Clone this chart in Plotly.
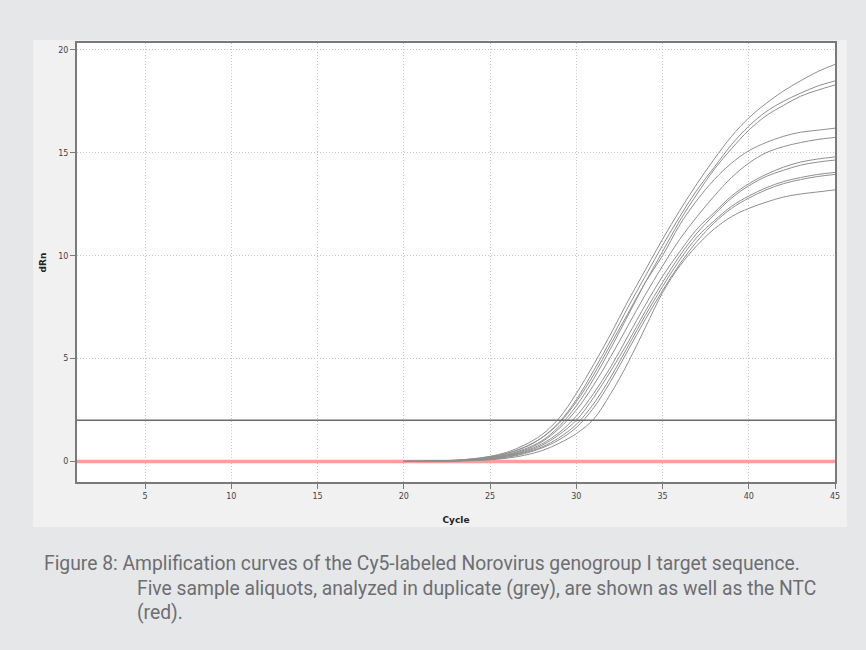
import plotly.graph_objects as go

# ---------------- data ----------------
cycles = list(range(20, 46))

sample_1a = [0.0, 0.01, 0.03, 0.06, 0.13, 0.25, 0.45, 0.8, 1.3, 2.1, 3.3, 4.7, 6.2, 7.8, 9.3, 10.8, 12.2, 13.5, 14.7, 15.8, 16.7, 17.4, 18.0, 18.5, 18.95, 19.3]
sample_1b = [0.0, 0.01, 0.02, 0.05, 0.11, 0.21, 0.38, 0.68, 1.15, 1.9, 3.0, 4.4, 5.9, 7.5, 9.0, 10.5, 11.9, 13.2, 14.3, 15.4, 16.3, 17.0, 17.5, 17.9, 18.25, 18.5]
sample_2a = [0.0, 0.01, 0.02, 0.04, 0.09, 0.18, 0.33, 0.6, 1.0, 1.7, 2.7, 4.0, 5.5, 7.1, 8.7, 10.2, 11.7, 13.0, 14.2, 15.2, 16.1, 16.8, 17.3, 17.75, 18.05, 18.3]
sample_2b = [0.0, 0.01, 0.03, 0.06, 0.12, 0.22, 0.4, 0.7, 1.15, 1.85, 2.9, 4.2, 5.7, 7.2, 8.7, 10.0, 11.5, 12.7, 13.7, 14.5, 15.1, 15.5, 15.8, 16.0, 16.1, 16.2]
sample_3a = [0.0, 0.01, 0.02, 0.04, 0.09, 0.17, 0.31, 0.55, 0.95, 1.6, 2.5, 3.7, 5.1, 6.6, 8.1, 9.5, 10.8, 11.9, 12.9, 13.8, 14.5, 15.0, 15.3, 15.5, 15.65, 15.75]
sample_3b = [0.0, 0.0, 0.02, 0.04, 0.08, 0.15, 0.28, 0.5, 0.85, 1.4, 2.2, 3.3, 4.6, 6.1, 7.6, 9.0, 10.2, 11.3, 12.1, 12.9, 13.5, 13.95, 14.3, 14.55, 14.7, 14.8]
sample_4a = [0.0, 0.0, 0.01, 0.03, 0.07, 0.14, 0.26, 0.46, 0.78, 1.3, 2.0, 3.1, 4.4, 5.8, 7.3, 8.7, 10.0, 11.1, 12.0, 12.8, 13.4, 13.85, 14.15, 14.4, 14.55, 14.65]
sample_4b = [0.0, 0.0, 0.01, 0.03, 0.06, 0.12, 0.23, 0.42, 0.7, 1.15, 1.8, 2.8, 4.1, 5.6, 7.1, 8.5, 9.8, 10.9, 11.7, 12.4, 12.9, 13.3, 13.6, 13.8, 13.95, 14.05]
sample_5a = [0.0, 0.0, 0.01, 0.02, 0.05, 0.1, 0.2, 0.38, 0.65, 1.05, 1.65, 2.6, 3.9, 5.4, 6.9, 8.3, 9.6, 10.7, 11.6, 12.3, 12.8, 13.2, 13.5, 13.7, 13.85, 13.95]
sample_5b = [0.0, 0.0, 0.01, 0.02, 0.04, 0.08, 0.16, 0.3, 0.52, 0.88, 1.35, 2.05, 3.3, 4.8, 6.5, 8.2, 9.5, 10.5, 11.3, 11.9, 12.3, 12.6, 12.85, 13.0, 13.1, 13.2]

samples = {
    "Sample 1 (a)": sample_1a, "Sample 1 (b)": sample_1b,
    "Sample 2 (a)": sample_2a, "Sample 2 (b)": sample_2b,
    "Sample 3 (a)": sample_3a, "Sample 3 (b)": sample_3b,
    "Sample 4 (a)": sample_4a, "Sample 4 (b)": sample_4b,
    "Sample 5 (a)": sample_5a, "Sample 5 (b)": sample_5b,
}

ntc_cycles = list(range(1, 46))
ntc_values = [0.0] * len(ntc_cycles)

threshold = 2.0

x_ticks = [5, 10, 15, 20, 25, 30, 35, 40, 45]
y_ticks = [0, 5, 10, 15, 20]

caption_lines = [
    "Figure 8: Amplification curves of the Cy5-labeled Norovirus genogroup I target sequence.",
    "Five sample aliquots, analyzed in duplicate (grey), are shown as well as the NTC",
    "(red).",
]

# ---------------- figure ----------------
fig = go.Figure()

fig.add_trace(go.Scatter(x=ntc_cycles, y=ntc_values, mode="lines",
                         line=dict(color="#ff9c9c", width=3.5), name="NTC",
                         showlegend=False, hoverinfo="skip"))

for name, vals in samples.items():
    fig.add_trace(go.Scatter(x=cycles, y=vals, mode="lines", name=name,
                             line=dict(color="#8f8f8f", width=1, shape="spline"),
                             showlegend=False))

fig.add_hline(y=threshold, line=dict(color="#6a6a6a", width=1.6))

L, R, T, B = 77, 31, 43, 168
W, H = 866, 650
pw, ph = W - L - R, H - T - B

def px_x(p):
    return (p - L) / pw

def px_y(p):
    return (H - B - p) / ph

# lighter panel behind the chart, then white plotting area
fig.add_shape(type="rect", xref="paper", yref="paper",
              x0=px_x(33), x1=px_x(847), y0=px_y(527), y1=px_y(40),
              fillcolor="#f1f1f1", line=dict(width=0), layer="below")
fig.add_shape(type="rect", xref="paper", yref="paper",
              x0=0, x1=1, y0=0, y1=1,
              fillcolor="#ffffff", line=dict(width=0), layer="below")

axis_common = dict(
    showline=True, linecolor="#7a7a7a", linewidth=2, mirror=True,
    ticks="outside", ticklen=5, tickcolor="#7a7a7a", tickwidth=1,
    showgrid=True, gridcolor="#c4c4c4", griddash="1px,2px", gridwidth=1,
    zeroline=False, tickfont=dict(family="DejaVu Sans", size=8, color="#444444"),
)

fig.update_xaxes(range=[1.05, 45], tickvals=x_ticks, **axis_common,
                 title=dict(text="<b>Cycle</b>", font=dict(family="DejaVu Sans", size=9, color="#222222"), standoff=17))
fig.update_yaxes(range=[-1.0, 20.34], tickvals=y_ticks, **axis_common,
                 title=dict(text="<b>dRn</b>", font=dict(family="DejaVu Sans", size=9, color="#222222"), standoff=10))

cap_font = dict(family="Roboto, sans-serif", size=19.3, color="#6d6e71")
fig.add_annotation(x=px_x(42), y=px_y(563), xref="paper", yref="paper", xanchor="left", yanchor="middle",
                   text=caption_lines[0], showarrow=False, font=cap_font)
fig.add_annotation(x=px_x(135), y=px_y(588), xref="paper", yref="paper", xanchor="left", yanchor="middle",
                   text=caption_lines[1], showarrow=False, font=cap_font)
fig.add_annotation(x=px_x(135), y=px_y(612), xref="paper", yref="paper", xanchor="left", yanchor="middle",
                   text=caption_lines[2], showarrow=False, font=cap_font)

fig.update_layout(
    width=W, height=H,
    margin=dict(l=L, r=R, t=T, b=B),
    paper_bgcolor="#e6e7e9", plot_bgcolor="rgba(0,0,0,0)",
    showlegend=False,
)

fig.write_html("out.html", config={"displayModeBar": False},
               post_script="document.body.style.margin='0';document.body.style.background='#e6e7e9';")
